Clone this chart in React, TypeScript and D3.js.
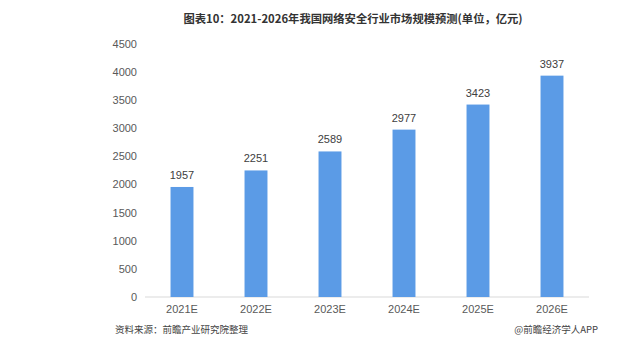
import React from "react";
import * as d3 from "d3";

const categories = ["2021E", "2022E", "2023E", "2024E", "2025E", "2026E"];
const values = [1957, 2251, 2589, 2977, 3423, 3937];
const yTicks = [0, 500, 1000, 1500, 2000, 2500, 3000, 3500, 4000, 4500];
const title = "图表10：2021-2026年我国网络安全行业市场规模预测(单位，亿元)";
const sourceText = "资料来源：前瞻产业研究院整理";
const brandText = "@前瞻经济学人APP";

const W = 637;
const H = 350;
const CJK = "'Noto Sans CJK SC', sans-serif";
const NUM = "'Liberation Sans', Arial, sans-serif";

export default function App() {
  const x = d3.scaleBand<string>().domain(categories).range([145, 589]).paddingInner(0.69).paddingOuter(0.345);
  const y = d3.scaleLinear().domain([0, 4500]).range([297, 44]);
  return (
    <svg width={W} height={H} style={{ position: "absolute", left: 0, top: 0, background: "#fff" }}>
      <text x={353} y={23} textAnchor="middle" fontSize={11.3} fontWeight="bold" fill="#333" fontFamily={CJK}>{title}</text>
      {yTicks.map((t) => (
        <text key={t} x={137} y={y(t)} dy="0.35em" textAnchor="end" fontSize={11} fill="#595959" fontFamily={NUM}>{t}</text>
      ))}
      <line x1={145} x2={589} y1={y(0)} y2={y(0)} stroke="#d9d9d9" strokeWidth={1} />
      {categories.map((c, i) => (
        <g key={c}>
          <rect x={x(c)} y={y(values[i])} width={x.bandwidth()} height={y(0) - y(values[i])} fill="#5b9be6" />
          <text x={(x(c) as number) + x.bandwidth() / 2} y={y(values[i]) - 8} textAnchor="middle" fontSize={11} fill="#404040" fontFamily={NUM}>{values[i]}</text>
          <text x={(x(c) as number) + x.bandwidth() / 2} y={y(0) + 16} textAnchor="middle" fontSize={11} fill="#595959" fontFamily={NUM}>{c}</text>
        </g>
      ))}
      <text x={115} y={333} fontSize={9.5} fill="#444" fontFamily={CJK}>{sourceText}</text>
      <text x={598} y={333} textAnchor="end" fontSize={9.5} fill="#444" fontFamily={CJK}>{brandText}</text>
    </svg>
  );
}
